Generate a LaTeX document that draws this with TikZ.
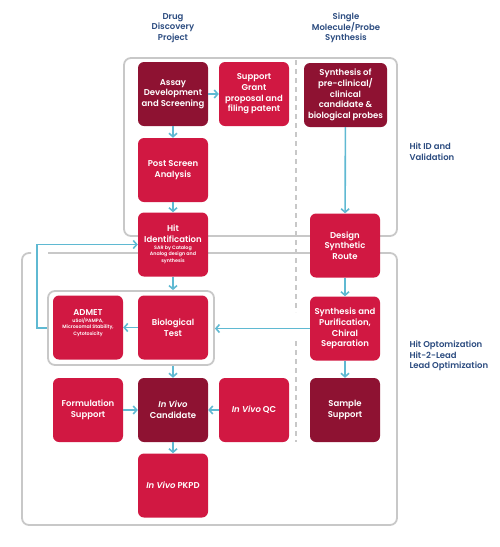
\documentclass[tikz,border=0pt]{standalone}
\usepackage{fontspec}
\setmainfont{Poppins}[BoldFont={* SemiBold},BoldItalicFont={* SemiBold Italic}]
\usetikzlibrary{arrows.meta}
\definecolor{boxred}{RGB}{209,24,66}
\definecolor{boxdark}{RGB}{142,18,50}
\definecolor{arrowblue}{RGB}{95,185,210}
\definecolor{framegray}{RGB}{200,200,200}
\definecolor{headblue}{RGB}{44,76,128}
\tikzset{
	box/.style={fill=boxred, text=white, rounded corners=6pt, minimum width=70pt, minimum height=64pt, inner sep=2pt, align=center, font=\bfseries\fontsize{8.5}{10.7}\selectfont},
	darkbox/.style={box, fill=boxdark},
	arr/.style={draw=arrowblue, line width=1.6pt, -{Straight Barb[length=3.5pt,width=8pt]}},
	frame/.style={draw=framegray, line width=1.8pt, rounded corners=7pt},
	head/.style={text=headblue, align=center, font=\bfseries\fontsize{8.5}{10.7}\selectfont},
	side/.style={head, align=left, anchor=west},
}
\newcommand{\smalllines}[1]{{\fontsize{4.8}{6.5}\selectfont\begin{tabular}{@{}c@{}}#1\end{tabular}}}
\begin{document}
\begin{tikzpicture}[x=1pt,y=-1pt]
	\useasboundingbox (0,0) rectangle (500,547);
	% headings
		\node[head] (ddp) at (173,28) {Drug\\Discovery\\Project};
		\node[head] (smp) at (346,28) {Single\\Molecule/Probe\\Synthesis};
		\node[side] (hitid) at (406,152) {Hit ID and\\Validation};
		\node[side] (hitopt) at (406,356) {Hit Optomization\\Hit-2-Lead\\Lead Optimization};
	% frames
		\draw[frame] (124,58) rectangle (397,236);
		\draw[frame] (48,253) -- (397,253) -- (397,525) -- (22,525) -- (22,253) -- (31,253);
		\draw[framegray, line width=1.4pt, dashed, dash pattern=on 5pt off 4pt] (296,60) -- (296,312);
		\draw[framegray, line width=1.4pt, dashed, dash pattern=on 5pt off 4pt] (296,341) -- (296,442);
		\node[frame, minimum width=166pt, minimum height=74pt] (testframe) at (131,328) {};
	% hit id
		\node[darkbox] (assay) at (173,94) {Assay\\Development\\and Screening};
		\node[box] (grant) at (254,94) {Support\\Grant\\proposal and\\filing patent};
		\node[darkbox, minimum width=83pt] (synth) at (345.5,95) {Synthesis of\\pre-clinical/\\clinical\\candidate \&\\biological probes};
		\node[box] (postscreen) at (173,170) {Post Screen\\Analysis};
		\node[box] (hit) at (173,244.5) {Hit\\Identification\\[1pt]\smalllines{SAR by Catalog\\Analog design and\\synthesis}};
		\node[box] (route) at (345,245.5) {Design\\Synthetic\\Route};
	% hit to lead
		\node[box] (admet) at (88,327.5) {ADMET\\[1pt]\smalllines{uSol/PAMPA,\\Microsomal Stability,\\Cytotoxicity}\\[6pt]};
		\node[box] (biotest) at (173,327.5) {Biological\\Test};
		\node[box] (purif) at (345,328.5) {Synthesis and\\Purification,\\Chiral\\Separation};
		\node[box] (formul) at (88,410) {Formulation\\Support};
		\node[darkbox] (cand) at (173,410) {\textit{In Vivo}\\Candidate};
		\node[box] (qc) at (254,410) {\textit{In Vivo} QC};
		\node[darkbox] (sample) at (345,410) {Sample\\Support};
		\node[box] (pkpd) at (173,485.5) {\textit{In Vivo} PKPD};
	% arrows
		\draw[arr] (assay) -- (grant);
		\draw[arr] (assay) -- (postscreen);
		\draw[arr] (postscreen) -- (hit);
		\draw[arr] (synth) -- (route);
		\draw[arr] (hit) -- (hit |- testframe.north);
		\draw[arr] (route) -- (purif);
		\draw[arr] (purif) -- (purif -| testframe.east);
		\draw[arr] (biotest) -- (admet);
		\draw[arr] (purif) -- (sample);
		\draw[arr] (cand |- testframe.south) -- (cand);
		\draw[arr] (formul) -- (cand);
		\draw[arr] (qc) -- (cand);
		\draw[arr] (cand) -- (pkpd);
		\draw[arr] (testframe.west) -- ++(-10,0) |- (hit.west);
\end{tikzpicture}
\end{document}
